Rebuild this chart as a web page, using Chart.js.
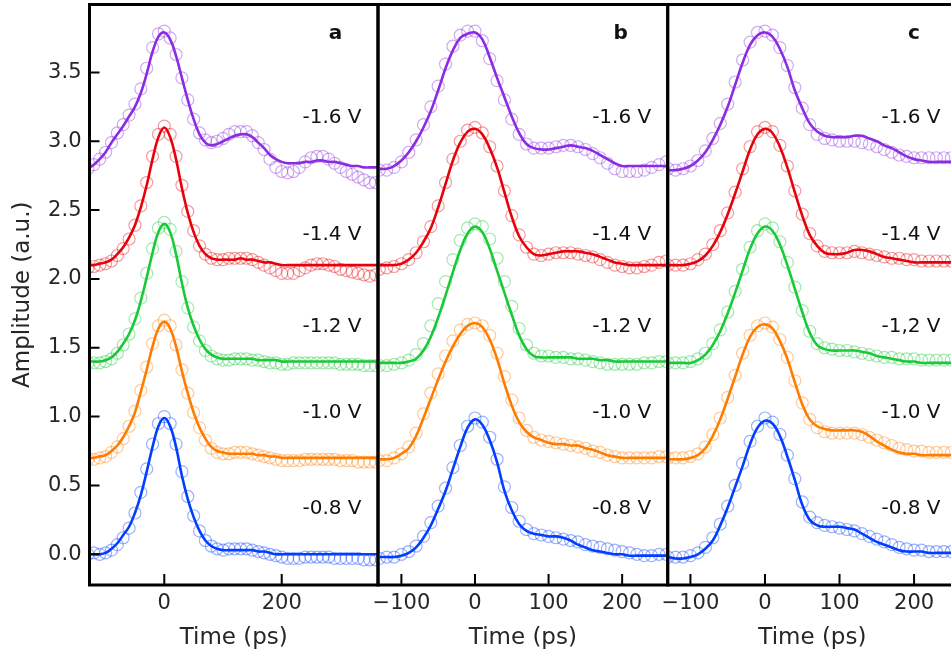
<!DOCTYPE html>
<html>
<head>
<meta charset="utf-8">
<script src="https://cdn.jsdelivr.net/npm/chart.js@4.4.1/dist/chart.umd.min.js"></script>
<style>
  html, body { margin: 0; padding: 0; background: #fff; }
  #fig { position: relative; width: 951px; height: 655px; overflow: hidden; }
  #fig canvas { position: absolute; top: 0; }
</style>
</head>
<body>
<div id="fig">
  <canvas id="panelA" width="380" height="655" style="left:0px"></canvas>
  <canvas id="panelB" width="300" height="655" style="left:370px"></canvas>
  <canvas id="panelC" width="300" height="655" style="left:660px"></canvas>
</div>
<script>
// time grids (ps)
const T_A = [-130, -120, -110, -100, -90, -80, -70, -60, -50, -40, -30, -20, -10, 0, 10, 20, 30, 40, 50, 60, 70, 80, 90,
  100, 110, 120, 130, 140, 150, 160, 170, 180, 190, 200, 210, 220, 230, 240, 250, 260, 270, 280, 290, 300, 310, 320,
  330, 340, 350, 360, 370];
const T_BC = [-130, -120, -110, -100, -90, -80, -70, -60, -50, -40, -30, -20, -10, 0, 10, 20, 30, 40, 50, 60, 70, 80, 90,
  100, 110, 120, 130, 140, 150, 160, 170, 180, 190, 200, 210, 220, 230, 240, 250, 260];

const Y_TICKS = [0, 0.5, 1.0, 1.5, 2.0, 2.5, 3.0, 3.5];
const X_TICKS_A = [0, 200];
const X_TICKS_BC = [-100, 0, 100, 200];

// series order: -0.8 V, -1.0 V, -1.2 V, -1.4 V, -1.6 V
const LABELS_AB = ['-0.8 V', '-1.0 V', '-1.2 V', '-1.4 V', '-1.6 V'];
const LABELS_C = ['-0.8 V', '-1.0 V', '-1,2 V', '-1.4 V', '-1.6 V'];
const LABEL_LEVELS = [0.33, 1.03, 1.65, 2.32, 3.17];

// ---- panel a ----
const A_FIT_08 = [0.00, 0.00, 0.00, 0.01, 0.04, 0.08, 0.14, 0.20, 0.30, 0.43, 0.60, 0.78, 0.93, 0.99, 0.93, 0.78, 0.57,
  0.40, 0.27, 0.17, 0.10, 0.06, 0.04, 0.03, 0.03, 0.03, 0.03, 0.03, 0.03, 0.02, 0.02, 0.01, 0.00, 0.00, 0.00, 0.00,
  0.00, 0.00, 0.00, 0.00, 0.00, 0.00, 0.00, 0.00, 0.00, 0.00, 0.00, 0.00, 0.00, 0.00, 0.00];
const A_DAT_08 = [0.00, 0.01, 0.00, 0.01, 0.03, 0.07, 0.12, 0.19, 0.30, 0.45, 0.62, 0.80, 0.95, 1.00, 0.95, 0.80, 0.60,
  0.42, 0.28, 0.17, 0.10, 0.06, 0.04, 0.03, 0.04, 0.04, 0.04, 0.04, 0.03, 0.02, 0.01, 0.00, -0.01, -0.02, -0.03, -0.03,
  -0.03, -0.02, -0.02, -0.02, -0.02, -0.02, -0.03, -0.03, -0.03, -0.03, -0.03, -0.04, -0.04, -0.04, -0.04];
const A_FIT_10 = [0.70, 0.70, 0.71, 0.72, 0.75, 0.79, 0.85, 0.93, 1.03, 1.18, 1.34, 1.51, 1.64, 1.69, 1.64, 1.51, 1.33,
  1.17, 1.03, 0.92, 0.84, 0.78, 0.75, 0.74, 0.73, 0.73, 0.73, 0.73, 0.73, 0.72, 0.72, 0.71, 0.71, 0.70, 0.70, 0.70,
  0.70, 0.70, 0.70, 0.70, 0.70, 0.70, 0.70, 0.70, 0.70, 0.70, 0.70, 0.70, 0.70, 0.70, 0.70];
const A_DAT_10 = [0.69, 0.69, 0.70, 0.71, 0.74, 0.78, 0.84, 0.93, 1.04, 1.19, 1.36, 1.53, 1.66, 1.70, 1.66, 1.52, 1.34,
  1.17, 1.03, 0.92, 0.83, 0.77, 0.74, 0.73, 0.73, 0.74, 0.74, 0.74, 0.73, 0.72, 0.71, 0.70, 0.69, 0.68, 0.68, 0.68,
  0.68, 0.69, 0.69, 0.69, 0.69, 0.69, 0.69, 0.68, 0.68, 0.68, 0.67, 0.67, 0.67, 0.67, 0.67];
const A_FIT_12 = [1.40, 1.40, 1.40, 1.41, 1.43, 1.47, 1.53, 1.60, 1.70, 1.84, 2.01, 2.19, 2.34, 2.40, 2.34, 2.18, 1.97,
  1.79, 1.66, 1.56, 1.49, 1.45, 1.43, 1.42, 1.42, 1.42, 1.42, 1.42, 1.42, 1.41, 1.41, 1.41, 1.41, 1.40, 1.40, 1.40,
  1.40, 1.40, 1.40, 1.40, 1.40, 1.40, 1.40, 1.40, 1.40, 1.40, 1.40, 1.40, 1.40, 1.40, 1.40];
const A_DAT_12 = [1.39, 1.39, 1.39, 1.40, 1.42, 1.46, 1.52, 1.60, 1.71, 1.86, 2.04, 2.22, 2.37, 2.41, 2.36, 2.20, 1.98,
  1.79, 1.65, 1.55, 1.48, 1.44, 1.42, 1.41, 1.41, 1.42, 1.42, 1.42, 1.41, 1.41, 1.40, 1.39, 1.39, 1.38, 1.38, 1.39,
  1.39, 1.39, 1.39, 1.39, 1.39, 1.39, 1.39, 1.38, 1.38, 1.38, 1.38, 1.37, 1.37, 1.37, 1.37];
const A_FIT_14 = [2.10, 2.10, 2.11, 2.12, 2.14, 2.18, 2.23, 2.30, 2.39, 2.52, 2.68, 2.87, 3.03, 3.10, 3.03, 2.87, 2.66,
  2.48, 2.34, 2.24, 2.18, 2.15, 2.14, 2.14, 2.14, 2.14, 2.15, 2.14, 2.14, 2.13, 2.12, 2.12, 2.11, 2.10, 2.10, 2.10,
  2.10, 2.10, 2.10, 2.10, 2.10, 2.10, 2.10, 2.10, 2.10, 2.10, 2.10, 2.10, 2.10, 2.10, 2.10];
const A_DAT_14 = [2.08, 2.09, 2.10, 2.11, 2.13, 2.17, 2.22, 2.29, 2.39, 2.53, 2.70, 2.89, 3.05, 3.11, 3.05, 2.89, 2.68,
  2.49, 2.35, 2.24, 2.18, 2.15, 2.14, 2.14, 2.15, 2.15, 2.15, 2.15, 2.14, 2.12, 2.10, 2.08, 2.06, 2.04, 2.04, 2.04,
  2.06, 2.08, 2.10, 2.11, 2.11, 2.10, 2.09, 2.07, 2.06, 2.05, 2.04, 2.03, 2.02, 2.03, 2.03];
const A_FIT_16 = [2.80, 2.83, 2.87, 2.92, 2.99, 3.05, 3.11, 3.18, 3.25, 3.35, 3.49, 3.65, 3.76, 3.79, 3.74, 3.62, 3.46,
  3.30, 3.16, 3.05, 2.99, 2.97, 2.98, 3.00, 3.02, 3.04, 3.05, 3.05, 3.03, 2.99, 2.95, 2.90, 2.87, 2.85, 2.84, 2.84,
  2.84, 2.85, 2.85, 2.86, 2.86, 2.85, 2.85, 2.84, 2.83, 2.82, 2.82, 2.81, 2.81, 2.81, 2.81];
const A_DAT_16 = [2.80, 2.83, 2.87, 2.92, 2.99, 3.06, 3.12, 3.19, 3.27, 3.38, 3.53, 3.68, 3.78, 3.80, 3.75, 3.63, 3.46,
  3.30, 3.16, 3.06, 3.01, 2.99, 3.00, 3.02, 3.05, 3.07, 3.07, 3.07, 3.04, 2.99, 2.94, 2.87, 2.81, 2.78, 2.77, 2.78,
  2.81, 2.85, 2.88, 2.89, 2.89, 2.87, 2.84, 2.81, 2.78, 2.76, 2.74, 2.72, 2.70, 2.70, 2.71];

// ---- panel b ----
const B_FIT_08 = [-0.02, -0.02, -0.02, -0.01, 0.01, 0.05, 0.12, 0.21, 0.33, 0.46, 0.62, 0.78, 0.92, 0.98, 0.94, 0.83,
  0.67, 0.46, 0.32, 0.22, 0.17, 0.15, 0.14, 0.13, 0.13, 0.12, 0.10, 0.07, 0.05, 0.03, 0.02, 0.01, 0.00, 0.00, -0.01,
  -0.01, -0.01, -0.01, -0.01, -0.01];
const B_DAT_08 = [-0.03, -0.02, -0.02, 0.00, 0.02, 0.06, 0.13, 0.23, 0.35, 0.48, 0.63, 0.79, 0.93, 0.99, 0.96, 0.85,
  0.69, 0.49, 0.34, 0.24, 0.18, 0.15, 0.14, 0.13, 0.12, 0.11, 0.10, 0.09, 0.07, 0.06, 0.05, 0.04, 0.03, 0.02, 0.01,
  0.00, -0.01, -0.01, 0.00, 0.00];
const B_FIT_10 = [0.69, 0.69, 0.70, 0.73, 0.77, 0.86, 0.99, 1.13, 1.27, 1.40, 1.51, 1.60, 1.66, 1.68, 1.65, 1.56, 1.42,
  1.24, 1.08, 0.96, 0.89, 0.85, 0.83, 0.81, 0.80, 0.80, 0.79, 0.79, 0.77, 0.76, 0.74, 0.72, 0.71, 0.70, 0.70, 0.70,
  0.70, 0.70, 0.70, 0.70];
const B_DAT_10 = [0.68, 0.68, 0.70, 0.73, 0.78, 0.88, 1.02, 1.17, 1.31, 1.44, 1.55, 1.63, 1.67, 1.68, 1.66, 1.59, 1.46,
  1.29, 1.12, 0.99, 0.90, 0.85, 0.83, 0.82, 0.81, 0.80, 0.79, 0.78, 0.77, 0.75, 0.74, 0.72, 0.71, 0.70, 0.70, 0.70,
  0.70, 0.70, 0.71, 0.71];
const B_FIT_12 = [1.39, 1.39, 1.39, 1.39, 1.40, 1.42, 1.48, 1.58, 1.72, 1.88, 2.05, 2.21, 2.33, 2.38, 2.34, 2.22, 2.06,
  1.90, 1.74, 1.59, 1.49, 1.44, 1.43, 1.43, 1.43, 1.43, 1.43, 1.42, 1.42, 1.42, 1.41, 1.41, 1.40, 1.40, 1.40, 1.40,
  1.40, 1.40, 1.40, 1.40];
const B_DAT_12 = [1.37, 1.37, 1.38, 1.39, 1.41, 1.45, 1.53, 1.66, 1.82, 1.98, 2.14, 2.28, 2.37, 2.40, 2.38, 2.29, 2.15,
  1.98, 1.80, 1.64, 1.52, 1.46, 1.44, 1.44, 1.43, 1.43, 1.42, 1.42, 1.41, 1.40, 1.39, 1.38, 1.38, 1.38, 1.38, 1.38,
  1.39, 1.39, 1.40, 1.40];
const B_FIT_14 = [2.10, 2.10, 2.10, 2.11, 2.14, 2.19, 2.27, 2.37, 2.52, 2.69, 2.86, 2.99, 3.07, 3.09, 3.05, 2.95, 2.81,
  2.63, 2.45, 2.31, 2.23, 2.18, 2.17, 2.18, 2.19, 2.20, 2.20, 2.20, 2.19, 2.18, 2.16, 2.14, 2.12, 2.11, 2.10, 2.10,
  2.10, 2.10, 2.10, 2.10];
const B_DAT_14 = [2.07, 2.08, 2.09, 2.11, 2.14, 2.19, 2.27, 2.38, 2.53, 2.70, 2.87, 3.00, 3.08, 3.10, 3.06, 2.96, 2.82,
  2.64, 2.46, 2.32, 2.23, 2.18, 2.17, 2.18, 2.19, 2.19, 2.19, 2.18, 2.17, 2.16, 2.14, 2.12, 2.10, 2.09, 2.08, 2.08,
  2.09, 2.10, 2.12, 2.13];
const B_FIT_16 = [2.80, 2.80, 2.82, 2.86, 2.92, 3.00, 3.10, 3.22, 3.37, 3.53, 3.66, 3.75, 3.78, 3.79, 3.74, 3.61, 3.46,
  3.32, 3.18, 3.06, 2.98, 2.95, 2.94, 2.94, 2.95, 2.96, 2.97, 2.96, 2.95, 2.93, 2.90, 2.87, 2.84, 2.82, 2.82, 2.82,
  2.82, 2.82, 2.82, 2.82];
const B_DAT_16 = [2.79, 2.79, 2.81, 2.85, 2.92, 3.01, 3.12, 3.25, 3.40, 3.56, 3.69, 3.77, 3.80, 3.80, 3.73, 3.60, 3.44,
  3.30, 3.16, 3.05, 2.98, 2.95, 2.95, 2.95, 2.96, 2.97, 2.97, 2.96, 2.94, 2.91, 2.88, 2.84, 2.80, 2.78, 2.78, 2.78,
  2.79, 2.81, 2.83, 2.85];

// ---- panel c ----
const C_FIT_08 = [-0.02, -0.03, -0.03, -0.02, 0.00, 0.04, 0.10, 0.21, 0.34, 0.49, 0.64, 0.80, 0.92, 0.97, 0.95, 0.86,
  0.71, 0.54, 0.36, 0.25, 0.21, 0.20, 0.20, 0.20, 0.19, 0.18, 0.15, 0.12, 0.09, 0.07, 0.05, 0.03, 0.02, 0.02, 0.02,
  0.01, 0.01, 0.01, 0.01, 0.01];
const C_DAT_08 = [-0.02, -0.02, -0.02, -0.01, 0.01, 0.05, 0.12, 0.22, 0.35, 0.50, 0.66, 0.82, 0.93, 0.99, 0.96, 0.87,
  0.72, 0.55, 0.38, 0.27, 0.23, 0.21, 0.20, 0.19, 0.18, 0.17, 0.15, 0.13, 0.11, 0.09, 0.07, 0.05, 0.04, 0.03, 0.03,
  0.02, 0.02, 0.02, 0.02, 0.02];
const C_FIT_10 = [0.69, 0.69, 0.69, 0.70, 0.72, 0.77, 0.86, 0.98, 1.13, 1.29, 1.45, 1.58, 1.65, 1.67, 1.64, 1.55, 1.42,
  1.25, 1.09, 0.98, 0.93, 0.91, 0.90, 0.90, 0.90, 0.90, 0.89, 0.86, 0.82, 0.79, 0.76, 0.74, 0.73, 0.73, 0.72, 0.72,
  0.72, 0.72, 0.72, 0.72];
const C_DAT_10 = [0.70, 0.70, 0.70, 0.71, 0.73, 0.78, 0.87, 0.99, 1.14, 1.30, 1.46, 1.59, 1.66, 1.68, 1.65, 1.56, 1.43,
  1.26, 1.10, 0.98, 0.92, 0.89, 0.88, 0.88, 0.88, 0.88, 0.87, 0.85, 0.83, 0.81, 0.79, 0.77, 0.76, 0.75, 0.75, 0.74,
  0.74, 0.74, 0.74, 0.74];
const C_FIT_12 = [1.39, 1.39, 1.39, 1.39, 1.41, 1.45, 1.52, 1.62, 1.75, 1.90, 2.06, 2.22, 2.33, 2.38, 2.35, 2.25, 2.10,
  1.93, 1.76, 1.61, 1.52, 1.49, 1.48, 1.48, 1.48, 1.48, 1.47, 1.46, 1.44, 1.43, 1.42, 1.41, 1.40, 1.40, 1.39, 1.39,
  1.39, 1.39, 1.39, 1.39];
const C_DAT_12 = [1.39, 1.39, 1.39, 1.40, 1.42, 1.46, 1.53, 1.63, 1.76, 1.91, 2.07, 2.23, 2.35, 2.40, 2.37, 2.27, 2.12,
  1.94, 1.77, 1.62, 1.53, 1.50, 1.49, 1.48, 1.48, 1.47, 1.46, 1.45, 1.44, 1.43, 1.43, 1.42, 1.42, 1.42, 1.41, 1.41,
  1.41, 1.41, 1.41, 1.41];
const C_FIT_14 = [2.10, 2.10, 2.10, 2.11, 2.13, 2.17, 2.24, 2.34, 2.47, 2.62, 2.78, 2.94, 3.05, 3.09, 3.06, 2.96, 2.81,
  2.63, 2.46, 2.32, 2.24, 2.19, 2.18, 2.18, 2.19, 2.21, 2.21, 2.20, 2.18, 2.16, 2.15, 2.14, 2.13, 2.12, 2.12, 2.12,
  2.12, 2.12, 2.12, 2.12];
const C_DAT_14 = [2.10, 2.10, 2.10, 2.11, 2.14, 2.18, 2.25, 2.35, 2.48, 2.63, 2.80, 2.96, 3.07, 3.10, 3.07, 2.97, 2.82,
  2.64, 2.47, 2.33, 2.24, 2.20, 2.19, 2.19, 2.19, 2.20, 2.19, 2.18, 2.17, 2.16, 2.15, 2.15, 2.14, 2.14, 2.13, 2.13,
  2.13, 2.13, 2.13, 2.13];
const C_FIT_16 = [2.79, 2.79, 2.80, 2.82, 2.86, 2.92, 3.01, 3.12, 3.25, 3.41, 3.57, 3.70, 3.77, 3.79, 3.76, 3.67, 3.54,
  3.37, 3.24, 3.13, 3.07, 3.04, 3.03, 3.03, 3.03, 3.04, 3.04, 3.02, 3.00, 2.97, 2.95, 2.92, 2.89, 2.87, 2.86, 2.85,
  2.85, 2.85, 2.85, 2.85];
const C_DAT_16 = [2.80, 2.79, 2.80, 2.82, 2.86, 2.93, 3.02, 3.13, 3.27, 3.43, 3.59, 3.72, 3.79, 3.80, 3.77, 3.68, 3.55,
  3.39, 3.24, 3.12, 3.05, 3.02, 3.01, 3.00, 3.00, 3.00, 2.99, 2.98, 2.96, 2.94, 2.92, 2.90, 2.89, 2.88, 2.88, 2.88,
  2.88, 2.88, 2.88, 2.88];

const LINE_COLORS = ['#023eff', '#ff7c00', '#1ac938', '#e8000b', '#8b2be2'];
const CIRCLE_COLORS = ['rgba(2,62,255,0.4)', 'rgba(255,124,0,0.4)', 'rgba(26,201,56,0.4)',
  'rgba(232,0,11,0.4)', 'rgba(139,43,226,0.4)'];

const Y_MIN = -0.223, Y_MAX = 3.993;
const TEXT = '#262626';
Chart.defaults.font.family = "'DejaVu Sans', sans-serif";
Chart.defaults.color = TEXT;

const panels = [
  { id: 'panelA', letter: 'a', letterDx: 42.5, times: T_A, xMin: -127.4, xMax: 364, xTicks: X_TICKS_A,
    fits: [A_FIT_08, A_FIT_10, A_FIT_12, A_FIT_14, A_FIT_16],
    dats: [A_DAT_08, A_DAT_10, A_DAT_12, A_DAT_14, A_DAT_16],
    labels: LABELS_AB, yAxis: true, padL: 0, padR: 2 },
  { id: 'panelB', letter: 'b', letterDx: 47, times: T_BC, xMin: -131.8, xMax: 261.9, xTicks: X_TICKS_BC,
    fits: [B_FIT_08, B_FIT_10, B_FIT_12, B_FIT_14, B_FIT_16],
    dats: [B_DAT_08, B_DAT_10, B_DAT_12, B_DAT_14, B_DAT_16],
    labels: LABELS_AB, yAxis: false, padL: 8, padR: 2.3 },
  { id: 'panelC', letter: 'c', letterDx: 43, times: T_BC, xMin: -130.5, xMax: 257.6, xTicks: X_TICKS_BC,
    fits: [C_FIT_08, C_FIT_10, C_FIT_12, C_FIT_14, C_FIT_16],
    dats: [C_DAT_08, C_DAT_10, C_DAT_12, C_DAT_14, C_DAT_16],
    labels: LABELS_C, yAxis: false, padL: 7.7, padR: 3 }
];

function pts(times, vals) {
  return times.map((t, i) => ({ x: t, y: vals[i] }));
}

// frame, inward ticks and text labels
const decorate = {
  id: 'decorate',
  afterDraw(chart, args, opts) {
    const ctx = chart.ctx;
    const a = chart.chartArea;
    const xs = chart.scales.x, ys = chart.scales.y;
    ctx.save();
    ctx.strokeStyle = '#000';
    ctx.lineWidth = 2;
    ctx.beginPath();
    xs.ticks.forEach(t => {
      const px = xs.getPixelForValue(t.value);
      ctx.moveTo(px, a.bottom);
      ctx.lineTo(px, a.bottom - 11);
    });
    if (opts.yAxis) {
      ys.ticks.forEach(t => {
        const py = ys.getPixelForValue(t.value);
        ctx.moveTo(a.left, py);
        ctx.lineTo(a.left + 10, py);
      });
    }
    ctx.stroke();

    ctx.lineWidth = 3;
    ctx.strokeRect(a.left, a.top, a.right - a.left, a.bottom - a.top);

    ctx.fillStyle = '#111';
    ctx.font = "20px 'DejaVu Sans'";
    ctx.textAlign = 'right';
    ctx.textBaseline = 'middle';
    opts.labels.forEach((txt, i) => {
      ctx.fillText(txt, a.right - 16.5, ys.getPixelForValue(LABEL_LEVELS[i]));
    });
    ctx.font = "bold 20px 'DejaVu Sans'";
    ctx.textAlign = 'center';
    ctx.textBaseline = 'alphabetic';
    ctx.fillText(opts.letter, a.right - opts.letterDx, a.top + 34);
    ctx.restore();
  }
};

panels.forEach(p => {
  const datasets = [];
  for (let i = 0; i < 5; i++) {
    datasets.push({
      data: pts(p.times, p.fits[i]),
      showLine: true,
      borderColor: LINE_COLORS[i],
      borderWidth: 2.6,
      pointRadius: 0,
      tension: 0.4,
      clip: 0,
      order: 0
    });
    datasets.push({
      data: pts(p.times, p.dats[i]),
      showLine: false,
      pointStyle: 'circle',
      pointRadius: 6,
      pointBorderWidth: 1.2,
      pointBorderColor: CIRCLE_COLORS[i],
      pointBackgroundColor: 'rgba(0,0,0,0)',
      clip: 0,
      order: 1
    });
  }

  new Chart(document.getElementById(p.id), {
    type: 'scatter',
    data: { datasets: datasets },
    options: {
      responsive: false,
      animation: false,
      devicePixelRatio: 1,
      layout: { autoPadding: false, padding: { top: 4.5, bottom: 0, left: p.padL, right: p.padR } },
      plugins: {
        legend: { display: false },
        tooltip: { enabled: false },
        decorate: { labels: p.labels, letter: p.letter, letterDx: p.letterDx, yAxis: p.yAxis }
      },
      scales: {
        x: {
          type: 'linear',
          position: 'bottom',
          min: p.xMin,
          max: p.xMax,
          grid: { display: false, drawTicks: false },
          border: { display: false },
          afterBuildTicks: s => { s.ticks = p.xTicks.map(v => ({ value: v })); },
          afterFit: s => { s.height = 70; s.paddingLeft = 0; s.paddingRight = 0; },
          ticks: {
            padding: 6,
            maxRotation: 0,
            autoSkip: false,
            font: { size: 21 },
            color: TEXT,
            callback: v => String(v).replace('-', '\u2212')
          },
          title: {
            display: true,
            text: 'Time (ps)',
            font: { size: 23 },
            color: TEXT,
            padding: { top: 0, bottom: 3 }
          }
        },
        y: {
          type: 'linear',
          display: p.yAxis,
          min: Y_MIN,
          max: Y_MAX,
          grid: { display: false, drawTicks: false },
          border: { display: false },
          afterBuildTicks: s => { s.ticks = Y_TICKS.map(v => ({ value: v })); },
          afterFit: s => {
            if (p.yAxis) s.width = 89.5;
            s.paddingTop = 0;
            s.paddingBottom = 0;
          },
          ticks: {
            padding: 8,
            font: { size: 21 },
            color: TEXT,
            callback: v => v.toFixed(1)
          },
          title: {
            display: true,
            text: 'Amplitude (a.u.)',
            font: { size: 23 },
            color: TEXT,
            padding: { top: 9, bottom: 0 }
          }
        }
      }
    },
    plugins: [decorate]
  });
});
</script>
</body>
</html>
